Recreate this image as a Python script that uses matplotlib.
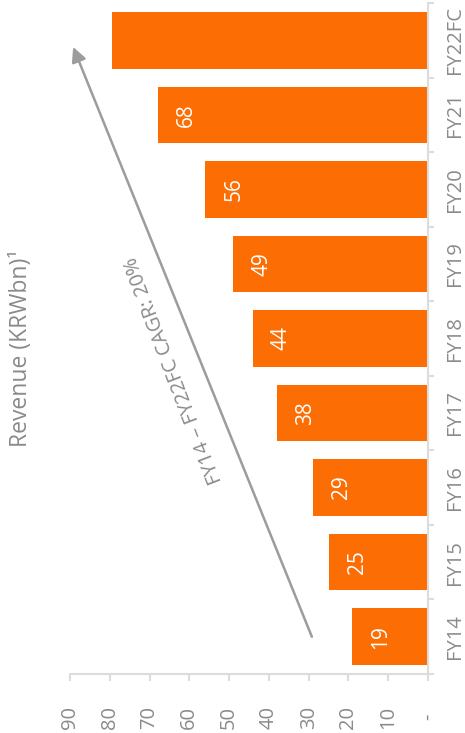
import matplotlib
matplotlib.use("Agg")
import matplotlib.pyplot as plt
from matplotlib.ticker import FixedLocator

plt.rcParams['font.family'] = ['Open Sans', 'DejaVu Sans']

years = ["FY14", "FY15", "FY16", "FY17", "FY18", "FY19", "FY20", "FY21", "FY22FC"]
revenue = [19, 25, 29, 38, 44, 49, 56, 68, 79.5]
labelled = [True, True, True, True, True, True, True, True, False]
value_ticks = [0, 10, 20, 30, 40, 50, 60, 70, 80, 90]
value_tick_labels = ["-", "10", "20", "30", "40", "50", "60", "70", "80", "90"]

BAR = "#fc6e04"
TEXT = "#8a8a8a"
AXIS = "#dcdcdc"

fig = plt.figure(figsize=(4.65, 7.33), dpi=100)
ax = fig.add_axes([70 / 465, 1 - 674 / 733, (428 - 70) / 465, (674 - 3) / 733])

pos = list(range(len(years)))
ax.barh(pos, revenue, height=0.76, color=BAR, zorder=2)

for i, (v, show) in enumerate(zip(revenue, labelled)):
    if show:
        ax.annotate(f"{v:g}", xy=(v, i), xytext=(20.5, 0), textcoords="offset points",
                    rotation=90, ha="center", va="center", color="white", fontsize=15)

ax.set_xlim(90, 0)
ax.set_ylim(-0.5, len(years) - 0.5)

# value axis along the bottom
ax.set_xticks(value_ticks)
ax.set_xticklabels(value_tick_labels, rotation=90, va="center", ha="center",
                   color=TEXT, fontsize=14.5)
ax.tick_params(axis="x", length=5, width=1.5, color=AXIS, pad=26)

# category axis on the right
ax.yaxis.tick_right()
ax.set_yticks(pos)
ax.set_yticklabels(years, rotation=90, va="center", ha="center", color=TEXT, fontsize=14.5)
ax.tick_params(axis="y", which="major", length=0, pad=19.5)
ax.yaxis.set_minor_locator(FixedLocator([p - 0.5 for p in pos] + [len(years) - 0.5]))
ax.tick_params(axis="y", which="minor", length=4.5, width=1.5, color=AXIS, right=True, left=False)

for side in ("top", "left"):
    ax.spines[side].set_visible(False)
for side in ("bottom", "right"):
    ax.spines[side].set_color(AXIS)
    ax.spines[side].set_linewidth(1.5)

# growth arrow and CAGR note
ax.annotate("", xy=(89.2, 7.91), xytext=(29.2, 0.0),
            arrowprops=dict(arrowstyle="-|>", color="#9c9c9c", lw=1.8, mutation_scale=22,
                            shrinkA=0, shrinkB=0))
ax.text(63.8, 3.57, "FY14 – FY22FC CAGR: 20%", rotation=111, rotation_mode="anchor",
        ha="center", va="center", color=TEXT, fontsize=14.5)

fig.text(21 / 465, 1 - 348 / 733, "Revenue (KRWbn)¹", rotation=90, ha="center", va="center",
         color=TEXT, fontsize=16.5)

fig.savefig("out.png", dpi=100)
